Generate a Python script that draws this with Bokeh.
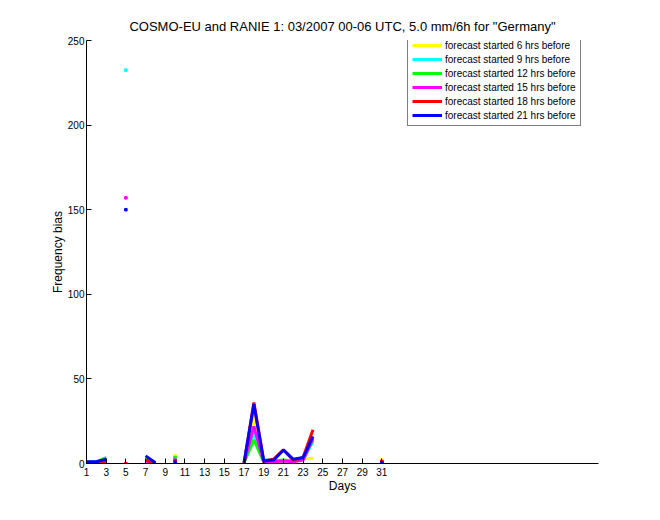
import numpy as np
from bokeh.plotting import figure
from bokeh.models import Range1d, FixedTicker, Legend, LegendItem
from bokeh.embed import file_html
from bokeh.resources import INLINE

nan = np.nan
days = list(range(1, 32))

# values per day (1..31); NaN = no value
def series(d):
    arr = [nan] * 31
    for k, v in d.items():
        arr[k - 1] = v
    return arr

fc6 = series({1: 0.8, 2: 0.8, 3: 2.0, 7: 2.0, 8: 0.4, 10: 4.5, 17: 0.5, 18: 28, 19: 0.5, 20: 0.5, 21: 0.5, 22: 0.5, 23: 3.0, 24: 3.0, 31: 2.0})
fc9 = series({1: 0.8, 2: 0.8, 3: 2.0, 5: 232.5, 7: 3.0, 8: 0.4, 10: 3.0, 17: 0.5, 18: 18, 19: 2.0, 20: 2.0, 21: 1.5, 22: 1.5, 23: 2.5, 24: 13, 31: 1.0})
fc12 = series({1: 0.8, 2: 1.0, 3: 3.5, 7: 3.0, 8: 0.4, 10: 3.5, 17: 0.5, 18: 14, 19: 1.0, 20: 1.5, 21: 2.0, 22: 1.5, 23: 2.0, 24: 14, 31: 1.0})
fc15 = series({1: 0.5, 2: 0.0, 3: 1.5, 5: 157.0, 7: 1.5, 8: 0.2, 10: 2.0, 17: 0.5, 18: 22, 19: 1.0, 20: 1.0, 21: 1.5, 22: 1.0, 23: 2.0, 24: 15, 31: 1.0})
fc18 = series({1: 0.8, 2: 0.5, 3: 1.5, 5: 0.0, 7: 2.0, 8: 0.0, 10: 1.5, 17: 0.0, 18: 36, 19: 1.5, 20: 2.5, 21: 8.0, 22: 2.0, 23: 3.5, 24: 20, 31: 1.2})
fc21 = series({1: 1.0, 2: 1.0, 3: 2.5, 5: 150.0, 7: 4.5, 8: 0.5, 10: 0.8, 17: 0.5, 18: 35, 19: 1.5, 20: 2.0, 21: 8.0, 22: 2.5, 23: 3.5, 24: 16, 31: 0.5})

labels = ["forecast started 6 hrs before", "forecast started 9 hrs before",
          "forecast started 12 hrs before", "forecast started 15 hrs before",
          "forecast started 18 hrs before", "forecast started 21 hrs before"]
colors = ["#ffff00", "#00ffff", "#00ff00", "#ff00ff", "#ff0000", "#0000ff"]
all_series = [fc6, fc9, fc12, fc15, fc18, fc21]

title = 'COSMO-EU and RANIE 1: 03/2007 00-06 UTC, 5.0 mm/6h for "Germany"'
x_ticks = list(range(1, 32, 2))
y_ticks = [0, 50, 100, 150, 200, 250]

FONT = "Liberation Sans"

p = figure(width=645, height=505, output_backend="svg", toolbar_location=None,
           x_range=Range1d(1, 53), y_range=Range1d(0, 250),
           min_border_left=86, min_border_right=47, min_border_top=40, min_border_bottom=42)
p.outline_line_color = None
p.xgrid.visible = False
p.ygrid.visible = False
p.background_fill_color = "white"
p.border_fill_color = "white"

p.title.text = title
p.title.align = "center"
p.title.text_font = FONT
p.title.text_font_size = "13px"
p.title.text_font_style = "normal"
p.title.text_color = "black"
p.title.standoff = 14

for ax in (p.xaxis[0], p.yaxis[0]):
    ax.major_tick_in = 5
    ax.major_tick_out = 0
    ax.minor_tick_in = 0
    ax.minor_tick_out = 0
    ax.major_label_text_font = FONT
    ax.major_label_text_font_size = "10px"
    ax.major_label_text_color = "black"
    ax.axis_label_text_font = FONT
    ax.axis_label_text_font_size = "12px"
    ax.axis_label_text_font_style = "normal"
    ax.axis_label_text_color = "black"
    ax.axis_line_color = "black"
    ax.major_tick_line_color = "black"

p.xaxis.ticker = FixedTicker(ticks=x_ticks)
p.yaxis.ticker = FixedTicker(ticks=y_ticks)
p.xaxis.axis_label = "Days"
p.yaxis.axis_label = "Frequency bias"
p.xaxis.major_label_standoff = 4
p.yaxis.major_label_standoff = 2
p.xaxis.axis_label_standoff = 0
p.yaxis.axis_label_standoff = 0

items = []
for s, c, lab in zip(all_series, colors, labels):
    arr = np.array(s, dtype=float)
    r = p.line(days, arr, line_color=c, line_width=3)
    # isolated points (neighbors missing) shown as small dots
    iso_x, iso_y = [], []
    for i, v in enumerate(arr):
        if np.isnan(v):
            continue
        left = np.isnan(arr[i - 1]) if i > 0 else True
        right = np.isnan(arr[i + 1]) if i < len(arr) - 1 else True
        if left and right:
            iso_x.append(days[i])
            iso_y.append(v)
    if iso_x:
        p.scatter(iso_x, iso_y, marker="square", size=2.5, fill_color=c, line_color=c)
    items.append(LegendItem(label=lab, renderers=[r]))

legend = Legend(items=items, location=(321, 337))
legend.label_text_font = FONT
legend.label_text_font_size = "10px"
legend.label_text_color = "black"
legend.glyph_width = 30
legend.glyph_height = 12
legend.label_height = 12
legend.spacing = 2
legend.padding = 4
legend.margin = 0
legend.label_standoff = 3
legend.border_line_color = "black"
legend.border_line_width = 1
legend.background_fill_alpha = 1
p.add_layout(legend)

open("out.html", "w").write(file_html(p, INLINE))
